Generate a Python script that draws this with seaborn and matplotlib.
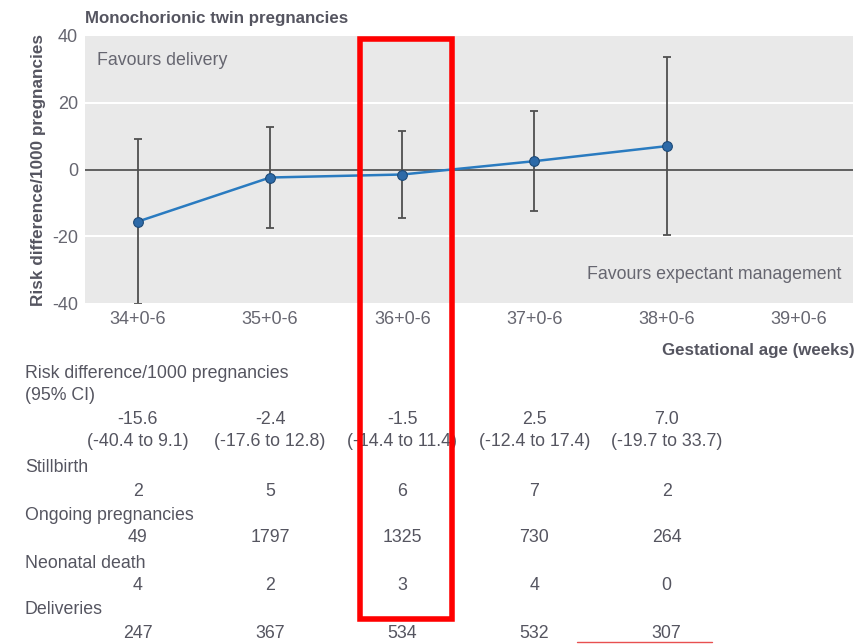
import numpy as np
import matplotlib
matplotlib.use('Agg')
import matplotlib.pyplot as plt
import matplotlib.transforms as mtransforms
from matplotlib.patches import Rectangle
import seaborn as sns

sns.set_theme(style='white')
plt.rcParams['font.family'] = ['Liberation Sans Narrow', 'Liberation Sans', 'DejaVu Sans']

# data
weeks = ['34+0-6', '35+0-6', '36+0-6', '37+0-6', '38+0-6', '39+0-6']
rd = [-15.6, -2.4, -1.5, 2.5, 7.0]
ci_lo = [-40.4, -17.6, -14.4, -12.4, -19.7]
ci_hi = [9.1, 12.8, 11.4, 17.4, 33.7]
stillbirth = [2, 5, 6, 7, 2]
ongoing = [49, 1797, 1325, 730, 264]
neonatal = [4, 2, 3, 4, 0]
deliveries = [247, 367, 534, 532, 307]

txt = '#555560'
fs = 12.8
fig = plt.figure(figsize=(8.61, 6.44), dpi=100)
ax = fig.add_axes([85/861, 1-303/644, (853-85)/861, (303-36)/644])
ax.set_facecolor('#e9e9e9')
for s in ax.spines.values():
    s.set_visible(False)

x = np.arange(len(rd))
for yv in (-20, 20):
    ax.axhline(yv, color='white', lw=1.5, zorder=0)
ax.axhline(0, color='#555555', lw=1.3, zorder=1)

yerr = [np.array(rd) - np.array(ci_lo), np.array(ci_hi) - np.array(rd)]
ax.errorbar(x, rd, yerr=yerr, fmt='none', ecolor='#505050', elinewidth=1.3,
            capsize=3, capthick=1.3, zorder=2)
sns.lineplot(x=x, y=rd, ax=ax, color='#2a7bc0', lw=1.8, marker='o',
             markersize=7, markerfacecolor='#2d6aa8', markeredgecolor='#1d4a78',
             markeredgewidth=0.8, zorder=3)

ax.set_xlim(-0.4, 5.41)
ax.set_ylim(-40, 40)
ax.set_yticks([-40, -20, 0, 20, 40])
ax.set_yticklabels(['-40', '-20', '0', '20', '40'])
ax.set_xticks(np.arange(len(weeks)))
ax.set_xticklabels(weeks)
ax.tick_params(axis='both', colors='white', labelcolor='#666670', labelsize=13,
               length=4, width=1)
ax.tick_params(axis='y', length=0, pad=5)
ax.tick_params(axis='x', pad=2)

ax.set_ylabel('Risk difference/1000 pregnancies', fontsize=12.3, fontweight='bold',
              color=txt, labelpad=4)
ax.text(0.015, 0.94, 'Favours delivery', transform=ax.transAxes, fontsize=fs,
        color='#666670', va='top', ha='left')
ax.text(0.985, 0.075, 'Favours expectant management', transform=ax.transAxes,
        fontsize=fs, color='#666670', va='bottom', ha='right')

fig.text(85/861, 1-18/644, 'Monochorionic twin pregnancies', fontsize=12.2,
         fontweight='bold', color=txt, va='center', ha='left')
fig.text(855/861, 1-350/644, 'Gestational age (weeks)', fontsize=12.2,
         fontweight='bold', color=txt, va='center', ha='right')

# table below the chart
trans = mtransforms.blended_transform_factory(ax.transData, fig.transFigure)
lx = 25/861
rows = [
    ('Risk difference/1000 pregnancies', 374),
    ('(95% CI)', 396),
    ('Stillbirth', 467),
    ('Ongoing pregnancies', 516),
    ('Neonatal death', 563),
    ('Deliveries', 609),
]
for label, yp in rows:
    fig.text(lx, 1-yp/644, label, fontsize=fs, color=txt, va='center', ha='left')

for i in range(len(rd)):
    ax.text(i, 1-419/644, f'{rd[i]:.1f}', transform=trans, fontsize=fs,
            color=txt, ha='center', va='center')
    ax.text(i, 1-441/644, f'({ci_lo[i]:.1f} to {ci_hi[i]:.1f})', transform=trans,
            fontsize=fs, color=txt, ha='center', va='center')
    ax.text(i, 1-491/644, str(stillbirth[i]), transform=trans, fontsize=fs,
            color=txt, ha='center', va='center')
    ax.text(i, 1-538/644, str(ongoing[i]), transform=trans, fontsize=fs,
            color=txt, ha='center', va='center')
    ax.text(i, 1-585/644, str(neonatal[i]), transform=trans, fontsize=fs,
            color=txt, ha='center', va='center')
    ax.text(i, 1-633/644, str(deliveries[i]), transform=trans, fontsize=fs,
            color=txt, ha='center', va='center')

# red highlight box around the 36 week column
fig.patches.append(Rectangle((360/861, 1-619/644), 92/861, 580/644,
                             transform=fig.transFigure, fill=False,
                             edgecolor='#ff0000', lw=4, zorder=10))
fig.lines.append(plt.Line2D([577/861, 712/861], [1-642/644, 1-642/644],
                            transform=fig.transFigure, color='#e85050', lw=1))

fig.savefig('out.png', dpi=100)
